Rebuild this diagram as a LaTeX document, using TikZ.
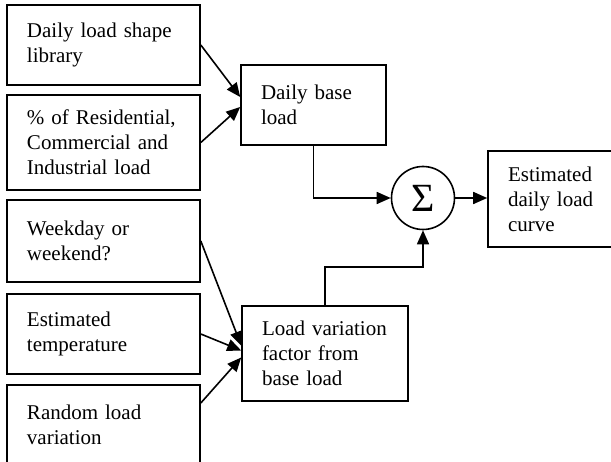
\documentclass[tikz,border=0pt]{standalone}
\usepackage{fontspec}
\setmainfont{Liberation Serif}
\usetikzlibrary{arrows.meta}
\begin{document}
\begin{tikzpicture}[
		x=1pt, y=-1pt,
		box/.style={draw, line width=1.6pt, rectangle, align=left,
				inner xsep=20pt, inner ysep=0pt,
				font=\fontsize{21}{25}\selectfont},
		sumnode/.style={draw, line width=1.6pt, circle, minimum size=63pt,
				inner sep=0pt, font=\fontsize{40}{40}\selectfont},
		arr/.style={line width=1.6pt, -{Triangle[length=14pt,width=12pt]}}
	]
	\clip (0,0) rectangle (611,462);
	% inputs
	\node[box, text width=153pt, minimum height=80pt] (shape) at (103.5,45) {Daily load shape\\library};
	\node[box, text width=153pt, minimum height=95pt] (mix) at (103.5,142.5) {\% of Residential,\\Commercial and\\Industrial load};
	\node[box, text width=153pt, minimum height=82pt] (week) at (103.5,241) {Weekday or\\weekend?};
	\node[box, text width=153pt, minimum height=80pt] (temp) at (103.5,334) {Estimated\\temperature};
	\node[box, text width=153pt, minimum height=80pt] (rand) at (103.5,425) {Random load\\variation};
	% middle
	\node[box, text width=105pt, minimum height=80pt] (base) at (313.5,105) {Daily base\\load};
	\node[box, text width=126pt, minimum height=95pt] (var) at (325,353.5) {Load variation\\factor from\\base load};
	\node[sumnode] (sum) at (423,198) {Σ};
	\node[box, text width=97pt, minimum height=96pt] (est) at (556.5,199) {Estimated\\daily load\\curve};
	% connectors
	\draw[arr] (shape.east) -- ([yshift=8pt]base.west);
	\draw[arr] (mix.east) -- ([yshift=-2pt]base.west);
	\draw[arr] (week.east) -- ([yshift=8pt]var.west);
	\draw[arr] (temp.east) -- ([yshift=3pt]var.west);
	\draw[arr] ([yshift=22pt]rand.east) -- ([yshift=-4pt]var.west);
	\draw[arr] (base.south) |- (sum.west);
	\draw[arr] (var.north) -- ++(0,-38) -| (sum.south);
	\draw[arr] (sum.east) -- (sum.east -| est.west);
\end{tikzpicture}
\end{document}
